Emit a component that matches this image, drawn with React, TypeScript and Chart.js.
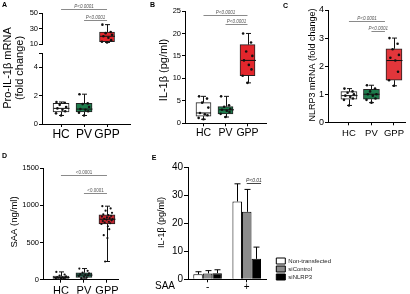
import React, { useEffect, useRef } from 'react';
import { Chart, registerables } from 'chart.js';

Chart.register(...registerables);

const FONT = "'Liberation Sans', Arial, Helvetica, sans-serif";

// ---------- shared ----------
const GROUPS = ['HC', 'PV', 'GPP'];
const JITTER = [-0.2, 0.16, -0.06, 0.22, -0.16, 0.06, 0.18, -0.22, 0.0, 0.12, -0.12, 0.24, -0.02, 0.2, -0.18, 0.08, -0.1, 0.14, -0.24, 0.04, 0.1, -0.14, 0.02, -0.08];

// ---------- Panel A : Pro-IL-1β mRNA (fold change) ----------
const A_HC = [1.55, 1.5, 1.35, 1.2, 1.1, 1.0, 0.9, 0.75, 0.6];
const A_PV = [2.1, 1.45, 1.4, 1.2, 1.05, 1.0, 0.9, 0.8, 0.6];
const A_GPP = [35, 25.5, 24, 22, 20, 18, 15, 13, 12];
const A_HC_STATS = [0.6, 0.85, 1.1, 1.45, 1.55]; // min, q1, median, q3, max
const A_PV_STATS = [0.6, 0.85, 1.05, 1.45, 2.1];
const A_GPP_STATS = [12, 13, 20, 25.5, 35];
const A_LOW_TICKS = [0, 2, 4, 5];
const A_HIGH_TICKS = [10, 30, 50];

// ---------- Panel B : IL-1β (pg/ml) ----------
const B_HC = [6, 5.5, 4.6, 3.5, 2.3, 2.0, 1.8, 1.2, 0.9];
const B_PV = [6, 4, 3.7, 3.2, 3.0, 2.8, 2.5, 2.1, 1.4];
const B_GPP = [20, 18, 16, 15, 14, 13, 12, 10.6, 9];
const B_HC_STATS = [0.9, 1.6, 2.3, 4.6, 6];
const B_PV_STATS = [1.4, 2.1, 3.0, 3.7, 6];
const B_GPP_STATS = [9, 10.6, 14, 17.5, 20];
const B_TICKS = [0, 5, 10, 15, 20, 25];

// ---------- Panel C : NLRP3 mRNA (fold change) ----------
const C_HC = [1.2, 1.1, 1.05, 1.0, 0.95, 0.9, 0.85, 0.8, 0.6];
const C_PV = [1.32, 1.2, 1.1, 1.0, 1.0, 0.95, 0.85, 0.8, 0.7];
const C_GPP = [3.0, 2.8, 2.6, 2.4, 2.3, 2.2, 1.8, 1.5, 1.3];
const C_HC_STATS = [0.6, 0.82, 0.95, 1.09, 1.2];
const C_PV_STATS = [0.7, 0.82, 1.0, 1.17, 1.32];
const C_GPP_STATS = [1.3, 1.5, 2.2, 2.62, 3.0];
const C_TICKS = [0, 1, 2, 3, 4];

// ---------- Panel D : SAA (ng/ml) ----------
const D_HC = [105, 70, 55, 45, 35, 30, 25, 20, 15, 10, 5];
const D_PV = [150, 120, 95, 85, 75, 65, 60, 50, 40, 30, 20];
const D_GPP = [990, 960, 930, 900, 880, 870, 860, 850, 840, 830, 820, 815, 810, 800, 790, 780, 770, 760, 750, 720, 680, 600, 560, 245];
const D_HC_STATS = [5, 18, 30, 50, 105];
const D_PV_STATS = [20, 30, 62, 94, 150];
const D_GPP_STATS = [245, 750, 814, 872, 990];
const D_TICKS = [0, 500, 1000, 1500];

// ---------- Panel E : IL-1β (pg/ml) with SAA ----------
const E_GROUPS = ['-', '+'];
const E_SERIES = ['Non-transfected', 'siControl', 'siNLRP3'];
const E_NONTRANS = [1.8, 27.8];
const E_NONTRANS_ERR = [0.9, 6.3];
const E_SICONTROL = [2.1, 24.1];
const E_SICONTROL_ERR = [1.0, 8.0];
const E_SINLRP3 = [2.2, 7.3];
const E_SINLRP3_ERR = [1.2, 4.2];
const E_TICKS = [0, 10, 20, 30, 40];

// ---------- colours ----------
const WHITE = '#ffffff';
const GREEN = '#1e7b4c';
const RED = '#e3262c';
const C_RED = '#e2363b';
const D_GREEN = '#2b6e58';
const D_RED = '#c0262f';

// ---------- plugins ----------
type TextItem = {
  text: string; x: number; y: number; size: number; rot?: number;
  bold?: boolean; italic?: boolean; align?: CanvasTextAlign; baseline?: CanvasTextBaseline; color?: string;
};

function textPlugin(items: TextItem[]) {
  return {
    id: 'panelTexts',
    afterDraw(chart: any) {
      const ctx = chart.ctx;
      for (const t of items) {
        ctx.save();
        ctx.translate(t.x, t.y);
        if (t.rot) ctx.rotate(t.rot);
        ctx.font = `${t.italic ? 'italic ' : ''}${t.bold ? 'bold ' : ''}${t.size}px ${FONT}`;
        ctx.fillStyle = t.color || '#000';
        ctx.textAlign = t.align || 'center';
        ctx.textBaseline = t.baseline || 'middle';
        ctx.fillText(t.text, 0, 0);
        ctx.restore();
      }
    },
  };
}

type Bracket = { from: number; to: number; y: number; label: string };

function bracketPlugin(items: Bracket[], size: number, italic: boolean) {
  return {
    id: 'pBrackets',
    afterDraw(chart: any) {
      const ctx = chart.ctx;
      const xs = chart.scales.x;
      const ys = chart.scales.y;
      ctx.save();
      for (const b of items) {
        const x1 = xs.getPixelForValue(b.from);
        const x2 = xs.getPixelForValue(b.to);
        const y = Math.round(ys.getPixelForValue(b.y)) + 0.5;
        ctx.strokeStyle = '#8a8a8a';
        ctx.lineWidth = 1;
        ctx.beginPath();
        ctx.moveTo(x1, y);
        ctx.lineTo(x2, y);
        ctx.stroke();
        ctx.font = `${italic ? 'italic ' : ''}${size}px ${FONT}`;
        ctx.fillStyle = '#555';
        ctx.textAlign = 'center';
        ctx.textBaseline = 'bottom';
        ctx.fillText(b.label, (x1 + x2) / 2, y - 0.5);
      }
      ctx.restore();
    },
  };
}

function whiskerPlugin(cats: number[], stats: number[][], boxWidth: number, capWidth: number) {
  return {
    id: 'boxWhiskers',
    afterDatasetsDraw(chart: any) {
      const ctx = chart.ctx;
      const xs = chart.scales.x;
      const ys = chart.scales.y;
      const p = (v: number) => ys.getPixelForValue(v);
      ctx.save();
      ctx.strokeStyle = '#111';
      ctx.lineWidth = 1;
      cats.forEach((c, i) => {
        const [mn, q1, md, q3, mx] = stats[i];
        const cx = Math.round(xs.getPixelForValue(c)) + 0.5;
        const h = boxWidth / 2;
        const k = capWidth / 2;
        ctx.beginPath();
        ctx.moveTo(cx, p(q3));
        ctx.lineTo(cx, p(mx));
        ctx.moveTo(cx - k, p(mx));
        ctx.lineTo(cx + k, p(mx));
        ctx.moveTo(cx, p(q1));
        ctx.lineTo(cx, p(mn));
        ctx.moveTo(cx - k, p(mn));
        ctx.lineTo(cx + k, p(mn));
        ctx.moveTo(cx - h, p(md));
        ctx.lineTo(cx + h, p(md));
        ctx.stroke();
      });
      ctx.restore();
    },
  };
}

function errorBarPlugin(errs: number[][], cap: number) {
  return {
    id: 'errBars',
    afterDatasetsDraw(chart: any) {
      const ctx = chart.ctx;
      const ys = chart.scales.y;
      ctx.save();
      ctx.strokeStyle = '#000';
      ctx.lineWidth = 1;
      errs.forEach((arr, di) => {
        const meta = chart.getDatasetMeta(di);
        meta.data.forEach((el: any, j: number) => {
          const v = chart.data.datasets[di].data[j] as number;
          const yTop = ys.getPixelForValue(v + arr[j]);
          const yBar = ys.getPixelForValue(v);
          const x = Math.round(el.x) + 0.5;
          ctx.beginPath();
          ctx.moveTo(x, yBar);
          ctx.lineTo(x, yTop);
          ctx.moveTo(x - cap / 2, yTop);
          ctx.lineTo(x + cap / 2, yTop);
          ctx.stroke();
        });
      });
      ctx.restore();
    },
  };
}

function barBracketPlugin(fromDs: number, toDs: number, index: number, value: number, label: string) {
  return {
    id: 'barBracket',
    afterDraw(chart: any) {
      const ctx = chart.ctx;
      const ys = chart.scales.y;
      const a = chart.getDatasetMeta(fromDs).data[index];
      const b = chart.getDatasetMeta(toDs).data[index];
      const x1 = a.x;
      const x2 = b.x + b.width / 2;
      const y = Math.round(ys.getPixelForValue(value)) + 0.5;
      ctx.save();
      ctx.strokeStyle = '#444';
      ctx.lineWidth = 1;
      ctx.beginPath();
      ctx.moveTo(x1, y);
      ctx.lineTo(x2, y);
      ctx.stroke();
      ctx.font = `italic 5px ${FONT}`;
      ctx.fillStyle = '#333';
      ctx.textAlign = 'center';
      ctx.textBaseline = 'bottom';
      ctx.fillText(label, (x1 + x2) / 2, y - 0.5);
      ctx.restore();
    },
  };
}

// ---------- box-plot config builder ----------
type BoxCfg = {
  cats: number[];
  points: number[][];
  stats: number[][];
  colors: string[];
  xMin: number; xMax: number; xShow: boolean; xFont: number; xPad: number; xHeight: number;
  yMin: number; yMax: number; yTicks: number[]; yNoLabel?: number[]; yFont: number; yWidth: number;
  pad: { left: number; right: number; top: number; bottom: number };
  boxWidth: number; capWidth: number; pointRadius: number;
  brackets: Bracket[]; bracketSize: number; bracketItalic: boolean;
  texts: TextItem[];
};

function boxConfig(c: BoxCfg): any {
  const scatterData: { x: number; y: number }[] = [];
  c.cats.forEach((cat, i) => {
    c.points[i].forEach((v, k) => {
      scatterData.push({ x: cat + JITTER[k % JITTER.length], y: v });
    });
  });
  const barData = c.cats.map((cat, i) => ({ x: cat, y: [c.stats[i][1], c.stats[i][3]] }));
  return {
    type: 'bar',
    data: {
      datasets: [
        {
          type: 'scatter',
          data: scatterData,
          order: 0,
          pointRadius: c.pointRadius,
          pointBackgroundColor: '#111',
          pointBorderWidth: 0,
          showLine: false,
        },
        {
          type: 'bar',
          data: barData,
          order: 1,
          backgroundColor: c.colors,
          borderColor: '#222',
          borderWidth: 1,
          borderSkipped: false,
          barThickness: c.boxWidth,
        },
      ],
    },
    options: {
      responsive: false,
      animation: false,
      devicePixelRatio: 1,
      events: [],
      layout: { padding: c.pad },
      plugins: { legend: { display: false }, tooltip: { enabled: false } },
      scales: {
        x: {
          type: 'linear',
          min: c.xMin,
          max: c.xMax,
          offset: false,
          display: c.xShow,
          afterBuildTicks: (s: any) => { s.ticks = [0, 1, 2].map((v) => ({ value: v })); },
          ticks: {
            autoSkip: false,
            maxRotation: 0,
            padding: c.xPad,
            color: '#000',
            font: { family: FONT, size: c.xFont },
            callback: (v: any) => GROUPS[Math.round(Number(v))] ?? '',
          },
          grid: { display: true, drawOnChartArea: false, offset: false, tickLength: 3, color: '#000', tickColor: '#000' },
          border: { display: true, color: '#000', width: 1 },
          afterFit: (s: any) => { s.height = c.xHeight; },
        },
        y: {
          type: 'linear',
          min: c.yMin,
          max: c.yMax,
          afterBuildTicks: (s: any) => { s.ticks = c.yTicks.map((v) => ({ value: v })); },
          ticks: {
            autoSkip: false,
            padding: 1,
            color: '#000',
            font: { family: FONT, size: c.yFont },
            callback: (v: any) => ((c.yNoLabel || []).includes(Number(v)) ? '' : String(v)),
          },
          grid: { display: true, drawOnChartArea: false, tickLength: 3, color: '#000', tickColor: '#000' },
          border: { display: true, color: '#000', width: 1 },
          afterFit: (s: any) => { s.width = c.yWidth; },
        },
      },
    },
    plugins: [
      whiskerPlugin(c.cats, c.stats, c.boxWidth, c.capWidth),
      bracketPlugin(c.brackets, c.bracketSize, c.bracketItalic),
      textPlugin(c.texts),
    ],
  };
}

const ROT = -Math.PI / 2;

// Panel A lower segment (0-5)
const configALow = () =>
  boxConfig({
    cats: [0, 1],
    points: [A_HC, A_PV],
    stats: [A_HC_STATS, A_PV_STATS],
    colors: [WHITE, GREEN],
    xMin: -0.83, xMax: 3.0, xShow: true, xFont: 12, xPad: 0, xHeight: 14,
    yMin: 0, yMax: 5, yTicks: A_LOW_TICKS, yNoLabel: [5], yFont: 7.5, yWidth: 42,
    pad: { left: 0, right: 5, top: 53, bottom: 7 },
    boxWidth: 16, capWidth: 5, pointRadius: 1.3,
    brackets: [], bracketSize: 4.5, bracketItalic: true,
    texts: [
      { text: 'A', x: 2, y: 2, size: 7, bold: true, align: 'left', baseline: 'top' },
      { text: 'Pro-IL-1β mRNA', x: 8, y: 68, size: 11, rot: ROT },
      { text: '(fold change)', x: 19.5, y: 68, size: 11, rot: ROT },
    ],
  });

// Panel A upper segment (10-50)
const configAHigh = () =>
  boxConfig({
    cats: [2],
    points: [A_GPP],
    stats: [A_GPP_STATS],
    colors: [RED],
    xMin: -0.83, xMax: 3.0, xShow: false, xFont: 12, xPad: 0, xHeight: 0,
    yMin: 10, yMax: 50, yTicks: A_HIGH_TICKS, yFont: 7.5, yWidth: 42,
    pad: { left: 0, right: 5, top: 13, bottom: 6 },
    boxWidth: 15, capWidth: 5, pointRadius: 1.3,
    brackets: [
      { from: 0, to: 2, y: 54.8, label: 'P<0.0001' },
      { from: 1, to: 2, y: 41, label: 'P<0.0001' },
    ],
    bracketSize: 4.5, bracketItalic: true,
    texts: [],
  });

const configB = () =>
  boxConfig({
    cats: [0, 1, 2],
    points: [B_HC, B_PV, B_GPP],
    stats: [B_HC_STATS, B_PV_STATS, B_GPP_STATS],
    colors: [WHITE, GREEN, RED],
    xMin: -0.84, xMax: 2.84, xShow: true, xFont: 10.5, xPad: 1, xHeight: 14,
    yMin: 0, yMax: 25, yTicks: B_TICKS, yFont: 7.5, yWidth: 50,
    pad: { left: 0, right: 2, top: 11, bottom: 7.7 },
    boxWidth: 15, capWidth: 5, pointRadius: 1.3,
    brackets: [
      { from: 0, to: 2, y: 24.1, label: 'P<0.0001' },
      { from: 1, to: 2, y: 22.0, label: 'P<0.0001' },
    ],
    bracketSize: 4.5, bracketItalic: true,
    texts: [
      { text: 'B', x: 15, y: 2, size: 7, bold: true, align: 'left', baseline: 'top' },
      { text: 'IL-1β (pg/ml)', x: 29, y: 70, size: 11, rot: ROT },
    ],
  });

const configC = () =>
  boxConfig({
    cats: [0, 1, 2],
    points: [C_HC, C_PV, C_GPP],
    stats: [C_HC_STATS, C_PV_STATS, C_GPP_STATS],
    colors: [WHITE, GREEN, C_RED],
    xMin: -0.93, xMax: 2.49, xShow: true, xFont: 9.5, xPad: 2, xHeight: 14,
    yMin: 0, yMax: 4, yTicks: C_TICKS, yFont: 9, yWidth: 58,
    pad: { left: 0, right: 5, top: 10, bottom: 8.7 },
    boxWidth: 16, capWidth: 5, pointRadius: 1.3,
    brackets: [
      { from: 0, to: 1.6, y: 3.62, label: 'P<0.0001' },
      { from: 1, to: 1.6, y: 3.26, label: 'P<0.0001' },
    ],
    bracketSize: 4.5, bracketItalic: true,
    texts: [
      { text: 'C', x: 13, y: 3, size: 7, bold: true, align: 'left', baseline: 'top' },
      { text: 'NLRP3 mRNA (fold change)', x: 42.5, y: 65, size: 9, rot: ROT },
    ],
  });

const configD = () =>
  boxConfig({
    cats: [0, 1, 2],
    points: [D_HC, D_PV, D_GPP],
    stats: [D_HC_STATS, D_PV_STATS, D_GPP_STATS],
    colors: [WHITE, D_GREEN, D_RED],
    xMin: -0.78, xMax: 2.48, xShow: true, xFont: 11, xPad: 2, xHeight: 14,
    yMin: 0, yMax: 1500, yTicks: D_TICKS, yFont: 7.5, yWidth: 43,
    pad: { left: 0, right: 32, top: 23.3, bottom: 0.3 },
    boxWidth: 16, capWidth: 5, pointRadius: 1.1,
    brackets: [
      { from: 0, to: 2, y: 1411, label: '<0.0001' },
      { from: 1, to: 2, y: 1164, label: '<0.0001' },
    ],
    bracketSize: 4.5, bracketItalic: false,
    texts: [
      { text: 'D', x: 2, y: 8, size: 7, bold: true, align: 'left', baseline: 'top' },
      { text: 'SAA (ng/ml)', x: 14.5, y: 77, size: 9.5, rot: ROT },
    ],
  });

const configE = (): any => ({
  type: 'bar',
  data: {
    labels: E_GROUPS,
    datasets: [
      { label: E_SERIES[0], data: E_NONTRANS, backgroundColor: '#ffffff', borderColor: '#000', borderWidth: 1 },
      { label: E_SERIES[1], data: E_SICONTROL, backgroundColor: '#8c8c8c', borderColor: '#000', borderWidth: 1 },
      { label: E_SERIES[2], data: E_SINLRP3, backgroundColor: '#000000', borderColor: '#000', borderWidth: 1 },
    ],
  },
  options: {
    responsive: false,
    animation: false,
    devicePixelRatio: 1,
    events: [],
    layout: { padding: { left: 0, right: 69, top: 22.3, bottom: 0.7 } },
    datasets: { bar: { categoryPercentage: 0.73, barPercentage: 1.0 } },
    plugins: {
      tooltip: { enabled: false },
      legend: {
        display: true,
        position: 'right',
        align: 'start',
        fullSize: true,
        maxWidth: 200,
        title: { display: true, text: '', font: { size: 1 }, padding: { top: 87.5, bottom: 0 } },
        labels: { boxWidth: 9, boxHeight: 6, padding: 2, color: '#222', font: { family: FONT, size: 6 } },
      },
    },
    scales: {
      x: {
        type: 'category',
        offset: true,
        ticks: { padding: -1.5, color: '#000', font: { family: FONT, size: 10 } },
        grid: { display: true, drawOnChartArea: false, offset: false, tickLength: 3, color: '#000', tickColor: '#000' },
        border: { display: true, color: '#000', width: 1 },
        afterFit: (s: any) => { s.height = 14; },
      },
      y: {
        type: 'linear',
        min: 0,
        max: 40,
        afterBuildTicks: (s: any) => { s.ticks = E_TICKS.map((v) => ({ value: v })); },
        ticks: { padding: 1, color: '#000', font: { family: FONT, size: 10 } },
        grid: { display: true, drawOnChartArea: false, tickLength: 4, color: '#000', tickColor: '#000' },
        border: { display: true, color: '#000', width: 1 },
        afterFit: (s: any) => { s.width = 38; },
      },
      y2: {
        type: 'linear',
        position: 'right',
        display: true,
        grid: { display: false },
        border: { display: false },
        ticks: { display: false },
        afterFit: (s: any) => { s.width = 8; },
      },
    },
  },
  plugins: [
    errorBarPlugin([E_NONTRANS_ERR, E_SICONTROL_ERR, E_SINLRP3_ERR], 6),
    barBracketPlugin(1, 2, 1, 34.3, 'P<0.01'),
    textPlugin([
      { text: 'E', x: 1.7, y: 10, size: 7, bold: true, align: 'left', baseline: 'top' },
      { text: 'IL-1β (pg/ml)', x: 11.5, y: 77.5, size: 9, rot: ROT },
      { text: 'SAA', x: 5, y: 141.7, size: 10, align: 'left' },
    ]),
  ],
});

function ChartCanvas(props: { left: number; top: number; width: number; height: number; z?: number; make: () => any }) {
  const ref = useRef<HTMLCanvasElement | null>(null);
  useEffect(() => {
    if (!ref.current) return;
    const chart = new Chart(ref.current, props.make());
    return () => chart.destroy();
  }, []);
  return (
    <canvas
      ref={ref}
      width={props.width}
      height={props.height}
      style={{ position: 'absolute', left: props.left, top: props.top, width: props.width, height: props.height, zIndex: props.z || 0 }}
    />
  );
}

export default function App() {
  return (
    <div style={{ position: 'absolute', left: 0, top: 0, width: 410, height: 294, background: '#fff', overflow: 'hidden' }}>
      <ChartCanvas left={0} top={0} width={135} height={145} make={configALow} />
      <ChartCanvas left={0} top={0} width={135} height={50} z={2} make={configAHigh} />
      <ChartCanvas left={135} top={0} width={135} height={145} make={configB} />
      <ChartCanvas left={270} top={0} width={140} height={145} make={configC} />
      <ChartCanvas left={0} top={145} width={150} height={149} make={configD} />
      <ChartCanvas left={150} top={145} width={260} height={149} make={configE} />
    </div>
  );
}
